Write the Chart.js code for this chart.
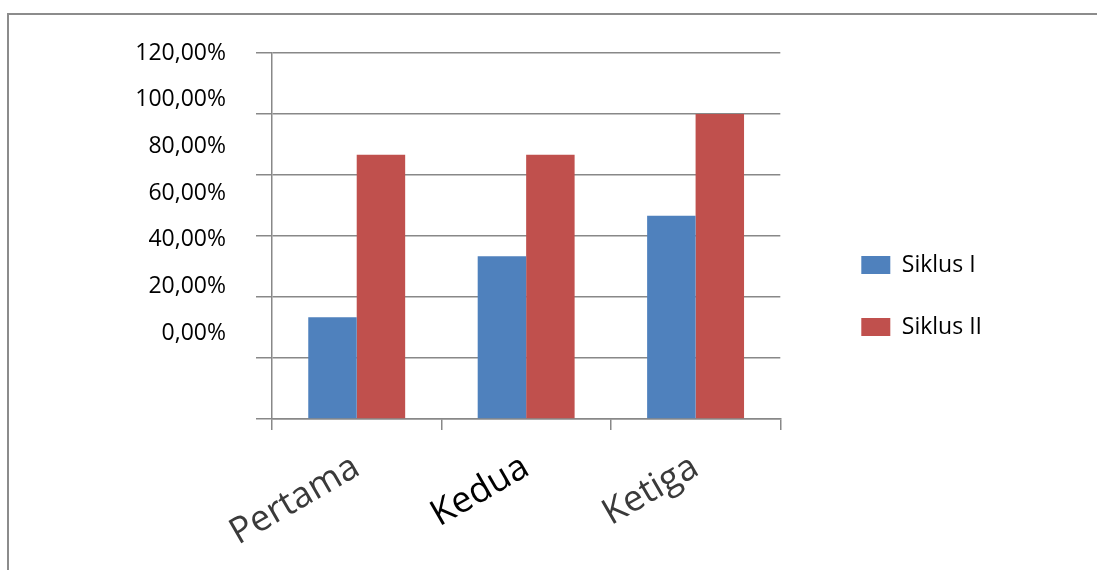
<!DOCTYPE html>
<html>
<head>
<meta charset="utf-8">
<script src="https://cdn.jsdelivr.net/npm/chart.js@4.4.1/dist/chart.umd.min.js"></script>
<style>
  html, body { margin: 0; padding: 0; background: #fff; overflow: hidden; }
  .frame {
    position: absolute; left: 7px; top: 13px; width: 1200px; height: 700px;
    border-top: 2px solid #8c8c8c; border-left: 2px solid #8c8c8c;
  }
  .wrap { position: absolute; left: 0; top: 0; width: 1097px; height: 570px; }
</style>
</head>
<body>
<div class="frame"></div>
<div class="wrap"><canvas id="siklus-chart"></canvas></div>
<script>
const categories = ["Pertama", "Kedua", "Ketiga"];
const siklusI = [33.33, 53.33, 66.67];
const siklusII = [86.67, 86.67, 100];
const yTicks = [0, 20, 40, 60, 80, 100, 120];

const gridColor = "#888888";
const font = "'Open Sans'";

const chartCanvas = document.getElementById("siklus-chart");

new Chart(chartCanvas, {
  type: "bar",
  data: {
    labels: categories,
    datasets: [
      {
        label: "Siklus I",
        data: siklusI,
        backgroundColor: "#4F81BD",
        yAxisID: "y",
      },
      {
        label: "Siklus II",
        data: siklusII,
        backgroundColor: "#C0504D",
        yAxisID: "y",
      },
    ],
  },
  options: {
    responsive: true,
    maintainAspectRatio: false,
    animation: false,
    categoryPercentage: 0.572,
    barPercentage: 1,
    layout: {
      padding: { top: 53, bottom: 0, left: 123, right: 105 },
    },
    plugins: {
      tooltip: { enabled: false },
      legend: {
        position: "right",
        align: "start",
        maxWidth: 300,
        // empty title only used to push the items down
        title: {
          display: true,
          text: "",
          font: { size: 10 },
          padding: { top: 149.5, bottom: 0 },
        },
        labels: {
          boxWidth: 29,
          boxHeight: 18,
          padding: 39,
          color: "#000",
          font: { family: font, size: 23 },
        },
      },
    },
    scales: {
      x: {
        grid: {
          drawOnChartArea: false,
          tickLength: 11,
          color: gridColor,
          lineWidth: 1.5,
        },
        border: { color: gridColor, width: 1.5 },
        afterFit(scale) {
          scale.height = 151;
        },
        ticks: {
          autoSkip: false,
          minRotation: 30,
          maxRotation: 30,
          padding: 16,
          color: ["#3a3a3a", "#000", "#3a3a3a"],
          font: { family: font, size: 36 },
        },
      },
      // value axis: gridlines and tick marks only
      y: {
        position: "left",
        weight: 0,
        min: 0,
        max: 120,
        ticks: { stepSize: 20, display: false },
        grid: { color: gridColor, lineWidth: 1.5, tickLength: 16 },
        border: { color: gridColor, width: 1.5 },
      },
      // the percentage labels sit on a tighter spacing than the gridlines in the original
      yLabels: {
        position: "left",
        weight: 1,
        min: -36.8,
        max: 120,
        grid: { display: false, drawTicks: false },
        border: { display: false },
        afterBuildTicks(scale) {
          scale.ticks = yTicks.map((v) => ({ value: v }));
        },
        afterFit(scale) {
          scale.width = 133;
        },
        ticks: {
          padding: 30,
          color: "#000",
          font: { family: font, size: 23 },
          callback: (value) => value.toFixed(2).replace(".", ",") + "%",
        },
      },
      // empty gap between the plot and the legend
      gap: {
        position: "right",
        grid: { display: false, drawTicks: false },
        border: { display: false },
        ticks: { display: false },
        afterFit(scale) {
          scale.width = 42;
        },
      },
    },
  },
});
</script>
</body>
</html>
